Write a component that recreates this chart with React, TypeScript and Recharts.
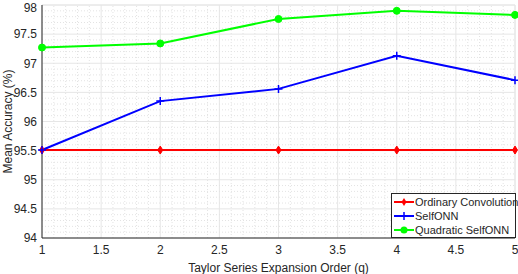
import React from "react";
import { LineChart, Line, XAxis, YAxis, CartesianGrid, ReferenceLine } from "recharts";

const orders = [1, 2, 3, 4, 5];
const ordinary = [95.51, 95.51, 95.51, 95.51, 95.51];
const selfOnn = [95.51, 96.35, 96.56, 97.13, 96.71];
const quadratic = [97.27, 97.34, 97.76, 97.9, 97.83];
const xTicks = [1, 1.5, 2, 2.5, 3, 3.5, 4, 4.5, 5];
const yTicks = [94, 94.5, 95, 95.5, 96, 96.5, 97, 97.5, 98];
const xMinor = [1.1, 1.2, 1.3, 1.4, 1.6, 1.7, 1.8, 1.9, 2.1, 2.2, 2.3, 2.4, 2.6, 2.7, 2.8, 2.9, 3.1, 3.2, 3.3, 3.4, 3.6, 3.7, 3.8, 3.9, 4.1, 4.2, 4.3, 4.4, 4.6, 4.7, 4.8, 4.9];
const yMinor = [94.1, 94.2, 94.3, 94.4, 94.6, 94.7, 94.8, 94.9, 95.1, 95.2, 95.3, 95.4, 95.6, 95.7, 95.8, 95.9, 96.1, 96.2, 96.3, 96.4, 96.6, 96.7, 96.8, 96.9, 97.1, 97.2, 97.3, 97.4, 97.6, 97.7, 97.8, 97.9];

const data = orders.map((q, i) => ({ q, ordinary: ordinary[i], selfOnn: selfOnn[i], quadratic: quadratic[i] }));

const FONT = "'Liberation Sans', Arial, sans-serif";

const Diamond = (props: any) => {
  const { cx, cy, key } = props;
  return <path key={key} d={`M${cx},${cy - 4} L${cx + 2.5},${cy} L${cx},${cy + 4} L${cx - 2.5},${cy} Z`} fill="#ff0000" stroke="#ff0000" strokeWidth={1} />;
};
const Plus = (props: any) => {
  const { cx, cy, key } = props;
  return <path key={key} d={`M${cx - 4},${cy} L${cx + 4},${cy} M${cx},${cy - 4} L${cx},${cy + 4}`} stroke="#0000ff" strokeWidth={1.5} fill="none" />;
};
const Circle = (props: any) => {
  const { cx, cy, key } = props;
  return <circle key={key} cx={cx} cy={cy} r={3.5} fill="#00ff00" stroke="#00ff00" />;
};

const legendItems = [
  { label: "Ordinary Convolution", color: "#ff0000", kind: "d" },
  { label: "SelfONN", color: "#0000ff", kind: "+" },
  { label: "Quadratic SelfONN", color: "#00ff00", kind: "o" },
];

const LegendBox = () => (
  <div style={{ position: "absolute", left: 391, top: 193, border: "1px solid #262626", background: "#fff", width: 125, height: 45, fontFamily: FONT, fontSize: 11, color: "#262626", boxSizing: "border-box", paddingTop: 1, whiteSpace: "nowrap" }}>
    {legendItems.map((it) => (
      <div key={it.label} style={{ display: "flex", alignItems: "center", height: 14 }}>
        <svg width={22} height={12} style={{ marginLeft: 1, flexShrink: 0 }}>
          <line x1={1} y1={6} x2={21} y2={6} stroke={it.color} strokeWidth={2} />
          {it.kind === "d" && <path d="M11,2 L13.5,6 L11,10 L8.5,6 Z" fill={it.color} />}
          {it.kind === "+" && <path d="M7,6 L15,6 M11,2 L11,10" stroke={it.color} strokeWidth={1.5} />}
          {it.kind === "o" && <circle cx={11} cy={6} r={3.5} fill={it.color} />}
        </svg>
        <span>{it.label}</span>
      </div>
    ))}
  </div>
);

export default function App() {
  return (
    <div style={{ position: "absolute", left: 0, top: 0, width: 518, height: 274, background: "#fff" }}>
      <LineChart width={518} height={274} data={data} margin={{ top: 5, right: 3, bottom: 0, left: 0 }}>
        {xMinor.map((v) => (
          <ReferenceLine key={"xm" + v} x={v} stroke="#e3e3e3" strokeDasharray="1 2" strokeWidth={1} />
        ))}
        {yMinor.map((v) => (
          <ReferenceLine key={"ym" + v} y={v} stroke="#e3e3e3" strokeDasharray="1 2" strokeWidth={1} />
        ))}
        <CartesianGrid stroke="#e6e6e6" strokeWidth={1} />
        <ReferenceLine y={98} stroke="#e6e6e6" />
        <ReferenceLine x={5} stroke="#e6e6e6" />
        <XAxis
          dataKey="q"
          type="number"
          domain={[1, 5]}
          ticks={xTicks}
          height={36}
          stroke="#262626"
          tickSize={0}
          tick={{ fill: "#262626", fontSize: 12, fontFamily: FONT, dy: 5 }}
          label={{ value: "Taylor Series Expansion Order (q)", position: "insideBottom", offset: 0, fill: "#262626", fontSize: 12, fontFamily: FONT, dy: -2 }}
        />
        <YAxis
          type="number"
          domain={[94, 98]}
          ticks={yTicks}
          width={42}
          stroke="#262626"
          tickSize={0}
          tick={{ fill: "#262626", fontSize: 12, fontFamily: FONT, dx: -3 }}
          label={{ value: "Mean Accuracy (%)", angle: -90, position: "center", fill: "#262626", fontSize: 12, fontFamily: FONT, dx: -13 }}
        />
        <Line dataKey="ordinary" name="Ordinary Convolution" stroke="#ff0000" strokeWidth={2} dot={<Diamond />} isAnimationActive={false} />
        <Line dataKey="selfOnn" name="SelfONN" stroke="#0000ff" strokeWidth={2} dot={<Plus />} isAnimationActive={false} />
        <Line dataKey="quadratic" name="Quadratic SelfONN" stroke="#00ff00" strokeWidth={2} dot={<Circle />} isAnimationActive={false} />
      </LineChart>
      <LegendBox />
    </div>
  );
}
